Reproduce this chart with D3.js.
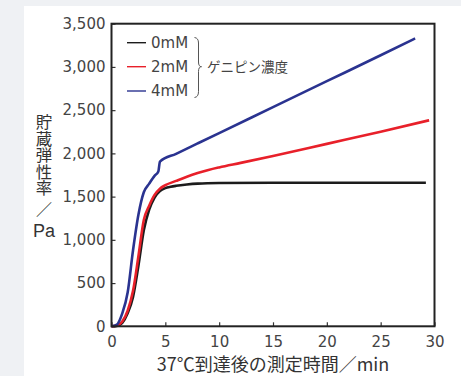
<!DOCTYPE html>
<html>
<head>
<meta charset="utf-8">
<script src="https://cdn.jsdelivr.net/npm/d3@7"></script>
<style>
  html, body { margin: 0; padding: 0; background: #eff1f4; }
  svg { display: block; }
</style>
</head>
<body>
<div id="chart"></div>
<script>
// 測定時間 (min) と 貯蔵弾性率 (Pa)
var t0 = [0, 0.5, 1, 1.5, 2, 2.5, 3, 3.5, 4, 4.5, 5, 5.5, 6, 7, 8, 10, 15, 20, 25, 29.2]
var v0 = [0, 5, 40, 150, 340, 700, 1110, 1350, 1490, 1565, 1598, 1614, 1625, 1640, 1650, 1657, 1660, 1661, 1661, 1661]

var t2 = [0, 0.5, 1, 1.5, 2, 2.5, 3, 3.5, 4, 4.5, 5, 6, 7, 8, 9, 10, 12, 15, 20, 25, 29.5]
var v2 = [0, 8, 55, 180, 410, 810, 1230, 1395, 1520, 1592, 1632, 1682, 1730, 1772, 1808, 1838, 1890, 1970, 2110, 2250, 2383]

var t4 = [0, 0.5, 1, 1.5, 2, 2.5, 3, 3.5, 4, 4.35, 4.5, 6, 8, 10, 15, 20, 25, 28.2]
var v4 = [0, 20, 150, 390, 880, 1290, 1550, 1650, 1740, 1790, 1904, 1995, 2115, 2235, 2535, 2835, 3135, 3330]

var seriesNames = ['0mM', '2mM', '4mM']
var seriesColors = ['#1c1c1c', '#e8202a', '#2a3390']
var xTicks = [0, 5, 10, 15, 20, 25, 30]
var yTicks = [0, 500, 1000, 1500, 2000, 2500, 3000, 3500]

var width = 461
var height = 376
var margin = { left: 111.5, top: 23.7, right: 26.5, bottom: 49.7 }

var svg = d3.select('#chart').append('svg')
  .attr('width', width)
  .attr('height', height)

// 白いパネル
svg.append('rect')
  .attr('x', 24).attr('y', 6)
  .attr('width', width - 24).attr('height', height - 6)
  .attr('fill', '#ffffff')

var x = d3.scaleLinear().domain([0, 30]).range([margin.left, width - margin.right])
var y = d3.scaleLinear().domain([0, 3500]).range([height - margin.bottom, margin.top])

var tickFont = 'DejaVu Sans, sans-serif'
var jpFont = 'Noto Sans CJK JP, sans-serif'

// y軸
var yAxis = svg.append('g')
  .attr('transform', 'translate(' + margin.left + ',0)')
  .call(d3.axisLeft(y).tickValues(yTicks).tickSize(-4).tickPadding(6)
    .tickFormat(d3.format(',')))
yAxis.select('.domain').remove()
yAxis.selectAll('line').attr('stroke', '#333').attr('stroke-width', 1.2)
yAxis.selectAll('text')
  .attr('fill', '#444')
  .style('font-family', tickFont)
  .style('font-size', '15px')

// x軸
var xAxis = svg.append('g')
  .attr('transform', 'translate(0,' + (height - margin.bottom) + ')')
  .call(d3.axisBottom(x).tickValues(xTicks).tickSize(-4).tickPadding(10))
xAxis.select('.domain').remove()
xAxis.selectAll('line').attr('stroke', '#333').attr('stroke-width', 1.2)
xAxis.selectAll('text')
  .attr('fill', '#444')
  .style('font-family', tickFont)
  .style('font-size', '15px')

// 線
var line = d3.line()
  .x(function (d) { return x(d[0]) })
  .y(function (d) { return y(d[1]) })
  .curve(d3.curveMonotoneX)

var allSeries = [d3.zip(t0, v0), d3.zip(t2, v2), d3.zip(t4, v4)]

svg.selectAll('.series')
  .data(allSeries)
  .enter().append('path')
  .attr('class', 'series')
  .attr('fill', 'none')
  .attr('stroke', function (d, i) { return seriesColors[i] })
  .attr('stroke-width', 2.6)
  .attr('stroke-linejoin', 'round')
  .attr('d', line)

// 枠
svg.append('rect')
  .attr('x', margin.left).attr('y', margin.top)
  .attr('width', width - margin.left - margin.right)
  .attr('height', height - margin.top - margin.bottom)
  .attr('fill', 'none')
  .attr('stroke', '#222')
  .attr('stroke-width', 2)

// 凡例
var legend = svg.append('g')
var legendY = [42.7, 66.7, 91]
seriesNames.forEach(function (name, i) {
  legend.append('line')
    .attr('x1', 127).attr('x2', 146)
    .attr('y1', legendY[i]).attr('y2', legendY[i])
    .attr('stroke', seriesColors[i])
    .attr('stroke-width', 1.4)
  legend.append('text')
    .attr('x', 151).attr('y', legendY[i])
    .attr('dy', '0.36em')
    .attr('fill', '#444')
    .style('font-family', tickFont)
    .style('font-size', '15px')
    .text(name)
})

// 中括弧
legend.append('path')
  .attr('d', 'M194.5,37.5 Q198.5,38 198.5,43 L198.5,62 Q198.5,66.7 201.5,66.7 Q198.5,66.7 198.5,71.5 L198.5,91.5 Q198.5,97 194.5,97.5')
  .attr('fill', 'none')
  .attr('stroke', '#555')
  .attr('stroke-width', 1)

legend.append('text')
  .attr('x', 207).attr('y', 66.7)
  .attr('dy', '0.36em')
  .attr('fill', '#444')
  .style('font-family', jpFont)
  .style('font-size', '13.5px')
  .text('ゲニピン濃度')

// y軸タイトル（縦書き）
svg.append('text')
  .attr('x', 44)
  .attr('y', 114)
  .attr('fill', '#333')
  .style('font-family', jpFont)
  .style('font-size', '16.4px')
  .style('writing-mode', 'vertical-rl')
  .text('貯蔵弾性率')
svg.append('text')
  .attr('x', 44)
  .attr('y', 215)
  .attr('text-anchor', 'middle')
  .attr('fill', '#333')
  .style('font-family', jpFont)
  .style('font-size', '16px')
  .text('／')
svg.append('text')
  .attr('x', 44)
  .attr('y', 237)
  .attr('text-anchor', 'middle')
  .attr('fill', '#333')
  .style('font-family', 'Liberation Sans Narrow, Liberation Sans, sans-serif')
  .style('font-size', '18px')
  .text('Pa')

// x軸タイトル
svg.append('text')
  .attr('x', 273)
  .attr('y', 371)
  .attr('text-anchor', 'middle')
  .attr('fill', '#333')
  .style('font-family', jpFont)
  .style('font-size', '18px')
  .text('37℃到達後の測定時間／min')
</script>
</body>
</html>
